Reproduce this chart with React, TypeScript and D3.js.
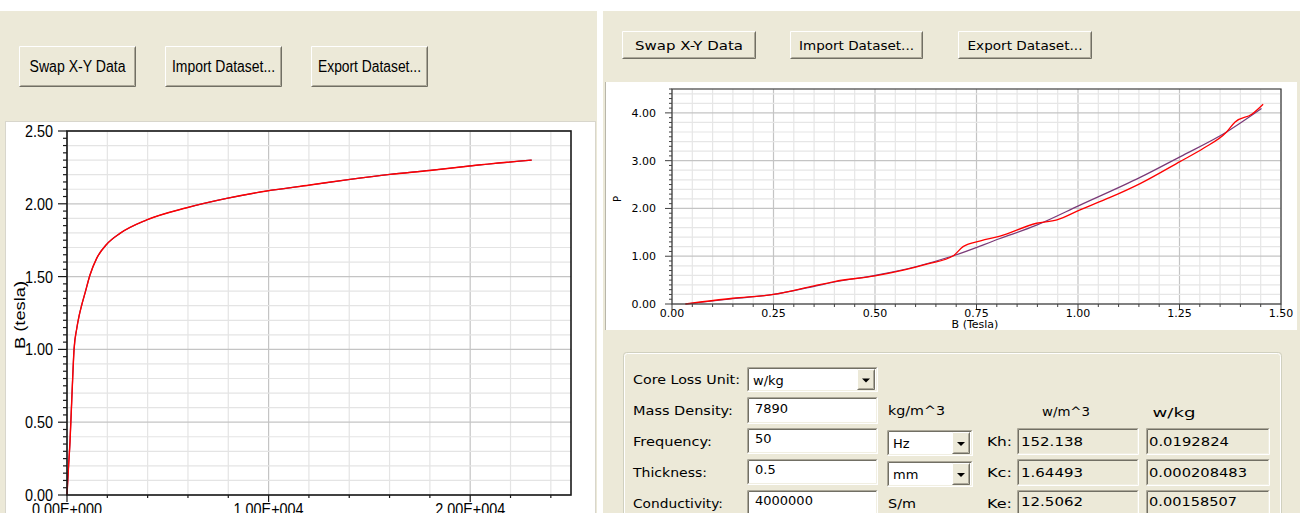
import React from 'react';
import * as d3 from 'd3';

// ---- Left chart: B-H curve ----
const H_APM = [0, 70, 150, 250, 350, 480, 600, 730, 900, 1140, 1470, 1970, 2630, 3950, 5940, 7920, 9900, 12050, 14040, 16020, 18000, 19990, 23050];
const B_TESLA = [0, 0.18, 0.37, 0.70, 1.00, 1.14, 1.23, 1.305, 1.39, 1.511, 1.625, 1.722, 1.797, 1.889, 1.973, 2.037, 2.088, 2.129, 2.168, 2.202, 2.229, 2.26, 2.30];
const LEFT_X_TICKS = [0, 10000, 20000];
const LEFT_X_LABELS = ['0.00E+000', '1.00E+004', '2.00E+004'];
const LEFT_Y_TICKS = [0, 0.5, 1.0, 1.5, 2.0, 2.5];
const LEFT_Y_LABELS = ['0.00', '0.50', '1.00', '1.50', '2.00', '2.50'];

// ---- Right chart: core loss P vs B ----
const B_MEAS = [0.033, 0.15, 0.25, 0.35, 0.40, 0.50, 0.57, 0.63, 0.693, 0.717, 0.76, 0.808, 0.898, 0.948, 1.005, 1.079, 1.153, 1.251, 1.309, 1.366, 1.387, 1.428, 1.456];
const P_MEAS = [0, 0.12, 0.20, 0.38, 0.47, 0.59, 0.71, 0.84, 1.01, 1.20, 1.32, 1.42, 1.69, 1.76, 1.97, 2.23, 2.52, 2.98, 3.26, 3.60, 3.81, 3.97, 4.18];
const B_FIT = [0.033, 0.15, 0.25, 0.35, 0.40, 0.50, 0.60, 0.693, 0.808, 0.898, 1.005, 1.153, 1.251, 1.366, 1.452];
const P_FIT = [0, 0.11, 0.20, 0.37, 0.46, 0.60, 0.78, 1.01, 1.37, 1.65, 2.07, 2.65, 3.08, 3.60, 4.09];
const RIGHT_X_TICKS = [0, 0.25, 0.5, 0.75, 1.0, 1.25, 1.5];
const RIGHT_Y_TICKS = [0, 1, 2, 3, 4];

const BEIGE = '#ECE9D8';
const FL = 'Liberation Sans, Arial, sans-serif';
const FR = 'DejaVu Sans, Verdana, sans-serif';

function T({ x, y, s, size, font, w, anchor, fill, rotate }: any) {
  const props: any = {};
  if (w) { props.textLength = w; props.lengthAdjust = 'spacingAndGlyphs'; }
  return (
    <text x={x} y={y} fontSize={size} fontFamily={font} textAnchor={anchor || 'start'} fill={fill || '#000'}
      transform={rotate ? `rotate(${rotate},${x},${y})` : undefined} {...props}>{s}</text>
  );
}

function Raised({ x, y, w, h }: any) {
  return (
    <g>
      <rect x={x} y={y} width={w} height={h} fill={BEIGE} />
      <path d={`M${x + 0.5},${y + h - 0.5}V${y + 0.5}H${x + w - 0.5}`} stroke="#fff" fill="none" />
      <path d={`M${x + 0.5},${y + h - 0.5}H${x + w - 0.5}V${y + 0.5}`} stroke="#716F64" fill="none" />
      <path d={`M${x + 1.5},${y + h - 1.5}H${x + w - 1.5}V${y + 1.5}`} stroke="#ACA899" fill="none" />
    </g>
  );
}

function Sunken({ x, y, w, h, fill }: any) {
  return (
    <g>
      <rect x={x} y={y} width={w} height={h} fill={fill || '#fff'} />
      <path d={`M${x + 0.5},${y + h - 0.5}V${y + 0.5}H${x + w - 0.5}`} stroke="#ACA899" fill="none" />
      <path d={`M${x + 1.5},${y + h - 1.5}V${y + 1.5}H${x + w - 1.5}`} stroke="#716F64" fill="none" />
      <path d={`M${x + 0.5},${y + h - 0.5}H${x + w - 0.5}V${y + 0.5}`} stroke="#fff" fill="none" />
      <path d={`M${x + 1.5},${y + h - 1.5}H${x + w - 1.5}V${y + 1.5}`} stroke="#F1EFE2" fill="none" />
    </g>
  );
}

function Combo({ x, y, w, h, s }: any) {
  const bx = x + w - 21;
  return (
    <g>
      <Sunken x={x} y={y} w={w} h={h} />
      <T x={x + 6} y={y + h / 2 + 5} s={s} size={13} font={FR} />
      <Raised x={bx} y={y + 2} w={18} h={h - 4} />
      <path d={`M${bx + 5},${y + h / 2 - 1}h8l-4,4z`} fill="#000" />
    </g>
  );
}

function Button({ x, y, w, h, s, size, font, tw }: any) {
  return (
    <g>
      <Raised x={x} y={y} w={w} h={h} />
      <T x={x + w / 2} y={y + h / 2 + size * 0.36} s={s} size={size} font={font} anchor="middle" w={tw} />
    </g>
  );
}

export default function App() {
  // Left chart scales
  const lx = d3.scaleLinear().domain([0, 25000]).range([67, 571]);
  const ly = d3.scaleLinear().domain([0, 2.5]).range([495, 131]);
  const leftLine = d3.line<number>().x((_, i) => lx(H_APM[i])).y((d) => ly(d)).curve(d3.curveMonotoneX);
  const lxMinor = d3.range(0, 25001, 2000);
  const lyMinor = d3.range(0, 26).map((i) => i / 10);
  const lyTicks = d3.range(0, 51).map((i) => i / 20);

  // Right chart scales
  const rx = d3.scaleLinear().domain([0, 1.5]).range([672, 1281]);
  const ry = d3.scaleLinear().domain([0, 4.5]).range([304, 89]);
  const measLine = d3.line<number>().x((_, i) => rx(B_MEAS[i])).y((d) => ry(d)).curve(d3.curveMonotoneX);
  const fitLine = d3.line<number>().x((_, i) => rx(B_FIT[i])).y((d) => ry(d)).curve(d3.curveMonotoneX);
  const rxMinor = d3.range(0, 31).map((i) => i / 20);
  const ryMinor = d3.range(0, 23).map((i) => i / 5).filter((v) => v <= 4.5);
  const ryTicks = d3.range(0, 46).map((i) => i / 10);

  return (
    <div style={{ position: 'fixed', left: 0, top: 0 }}>
      <svg width={1300} height={513} style={{ display: 'block' }}>
        <rect x={0} y={0} width={1300} height={513} fill="#fff" />
        {/* Left panel */}
        <rect x={0} y={11} width={597} height={502} fill={BEIGE} />
        <Button x={19} y={46} w={117} h={41} s="Swap X-Y Data" size={16} font={FL} tw={96} />
        <Button x={165} y={46} w={117} h={41} s="Import Dataset..." size={16} font={FL} tw={103} />
        <Button x={311} y={46} w={117} h={41} s="Export Dataset..." size={16} font={FL} tw={103} />
        <rect x={5.5} y={121.5} width={590} height={395} fill="#fff" stroke="#d8d6cc" />

        {/* left grid */}
        {lxMinor.map((v) => (
          <line key={'lxg' + v} x1={lx(v)} x2={lx(v)} y1={ly(2.5)} y2={ly(0)} stroke={v % 10000 === 0 ? '#c4c4c4' : '#e4e4e4'} strokeWidth={1.2} />
        ))}
        {lyMinor.map((v) => (
          <line key={'lyg' + v} x1={lx(0)} x2={lx(25000)} y1={ly(v)} y2={ly(v)} stroke={Math.round(v * 10) % 5 === 0 ? '#c4c4c4' : '#e4e4e4'} strokeWidth={1.2} />
        ))}
        <path d={leftLine(B_TESLA) || ''} fill="none" stroke="#6a2a6e" strokeWidth={1.2} />
        <path d={leftLine(B_TESLA) || ''} fill="none" stroke="#ff0000" strokeWidth={1.4} />
        <rect x={lx(0)} y={ly(2.5)} width={lx(25000) - lx(0)} height={ly(0) - ly(2.5)} fill="none" stroke="#1a1a1a" strokeWidth={1.6} />
        {lyTicks.map((v, i) => (
          <line key={'lyt' + i} x1={lx(0) - (i % 10 === 0 ? 9 : 4)} x2={lx(0)} y1={ly(v)} y2={ly(v)} stroke="#1a1a1a" strokeWidth={1.2} />
        ))}
        {lxMinor.map((v) => (
          <line key={'lxt' + v} x1={lx(v)} x2={lx(v)} y1={ly(0)} y2={ly(0) + (v % 10000 === 0 ? 7 : 3)} stroke="#1a1a1a" strokeWidth={1.2} />
        ))}
        {LEFT_Y_TICKS.map((v, i) => (
          <T key={'lyl' + v} x={53} y={ly(v) + 6} s={LEFT_Y_LABELS[i]} size={16} font={FL} anchor="end" w={28} />
        ))}
        {LEFT_X_TICKS.map((v, i) => (
          <T key={'lxl' + v} x={lx(v)} y={515} s={LEFT_X_LABELS[i]} size={16} font={FL} anchor="middle" w={70} />
        ))}
        <T x={25} y={315} s="B (tesla)" size={14} font={FL} anchor="middle" rotate={-90} w={68} />

        {/* Right panel */}
        <rect x={603} y={11} width={697} height={502} fill={BEIGE} />
        <Button x={622} y={31} w={134} h={28} s="Swap X-Y Data" size={13} font={FR} tw={108} />
        <Button x={790} y={31} w={133} h={28} s="Import Dataset..." size={13} font={FR} tw={115} />
        <Button x={958} y={31} w={134} h={28} s="Export Dataset..." size={13} font={FR} tw={115} />
        <rect x={605} y={82} width={692} height={248} fill="#fff" />
        <line x1={605.5} x2={605.5} y1={82} y2={330} stroke="#b8b6aa" />

        {rxMinor.map((v, i) => (
          <line key={'rxg' + i} x1={rx(v)} x2={rx(v)} y1={ry(4.5)} y2={ry(0)} stroke={i % 5 === 0 ? '#c4c4c4' : '#e6e6e6'} strokeWidth={1.2} />
        ))}
        {ryMinor.map((v, i) => (
          <line key={'ryg' + i} x1={rx(0)} x2={rx(1.5)} y1={ry(v)} y2={ry(v)} stroke={i % 5 === 0 ? '#c4c4c4' : '#e6e6e6'} strokeWidth={1.2} />
        ))}
        <path d={fitLine(P_FIT) || ''} fill="none" stroke="#7a3a78" strokeWidth={1.2} />
        <path d={measLine(P_MEAS) || ''} fill="none" stroke="#ff0000" strokeWidth={1.3} />
        <rect x={rx(0)} y={ry(4.5)} width={rx(1.5) - rx(0)} height={ry(0) - ry(4.5)} fill="none" stroke="#404040" strokeWidth={1.2} />
        {ryTicks.map((v, i) => (
          <line key={'ryt' + i} x1={rx(0) - (i % 10 === 0 ? 7 : 3)} x2={rx(0)} y1={ry(v)} y2={ry(v)} stroke="#404040" />
        ))}
        {rxMinor.map((v, i) => (
          <line key={'rxt' + i} x1={rx(v)} x2={rx(v)} y1={ry(0)} y2={ry(0) + (i % 5 === 0 ? 6 : 3)} stroke="#404040" />
        ))}
        {RIGHT_Y_TICKS.map((v) => (
          <T key={'ryl' + v} x={656} y={ry(v) + 4} s={v.toFixed(2)} size={11} font={FR} anchor="end" />
        ))}
        {RIGHT_X_TICKS.map((v) => (
          <T key={'rxl' + v} x={rx(v)} y={317} s={v.toFixed(2)} size={11} font={FR} anchor="middle" />
        ))}
        <T x={975} y={328} s="B (Tesla)" size={11} font={FR} anchor="middle" />
        <T x={621} y={199} s="P" size={10} font={FR} anchor="middle" rotate={-90} />

        {/* Group box */}
        <rect x={623.5} y={352.5} width={658} height={175} fill="none" stroke="#D0D0BF" rx={3} />
        <rect x={624.5} y={353.5} width={656} height={173} fill="none" stroke="#fff" rx={3} />

        <T x={633} y={384} s="Core Loss Unit:" size={13} font={FR} w={107} />
        <Combo x={747} y={367} w={131} h={25} s="w/kg" />

        <T x={633} y={415} s="Mass Density:" size={13} font={FR} w={100} />
        <Sunken x={747} y={397} w={131} h={27} />
        <T x={755} y={413} s="7890" size={13} font={FR} />
        <T x={888} y={415} s="kg/m^3" size={13} font={FR} w={57} />

        <T x={633} y={446} s="Frequency:" size={13} font={FR} w={79} />
        <Sunken x={747} y={428} w={131} h={26} />
        <T x={755} y={443} s="50" size={13} font={FR} />
        <Combo x={887} y={430} w={86} h={26} s="Hz" />

        <T x={633} y={477} s="Thickness:" size={13} font={FR} w={74} />
        <Sunken x={747} y={459} w={131} h={26} />
        <T x={755} y={474} s="0.5" size={13} font={FR} />
        <Combo x={887} y={461} w={86} h={26} s="mm" />

        <T x={633} y={508} s="Conductivity:" size={13} font={FR} w={90} />
        <Sunken x={747} y={490} w={131} h={28} />
        <T x={755} y={505} s="4000000" size={13} font={FR} />
        <T x={888} y={508} s="S/m" size={13} font={FR} w={28} />

        <T x={1066} y={416} s="w/m^3" size={13} font={FR} anchor="middle" w={48} />
        <T x={1174} y={417} s="w/kg" size={13} font={FR} anchor="middle" w={43} />

        <T x={987} y={446} s="Kh:" size={13} font={FR} w={25} />
        <Sunken x={1017} y={428} w={122} h={27} fill={BEIGE} />
        <T x={1021} y={446} s="152.138" size={13} font={FR} w={62} />
        <Sunken x={1146} y={428} w={124} h={27} fill={BEIGE} />
        <T x={1149} y={446} s="0.0192824" size={13} font={FR} w={80} />

        <T x={987} y={477} s="Kc:" size={13} font={FR} w={25} />
        <Sunken x={1017} y={459} w={122} h={27} fill={BEIGE} />
        <T x={1021} y={477} s="1.64493" size={13} font={FR} w={62} />
        <Sunken x={1146} y={459} w={124} h={27} fill={BEIGE} />
        <T x={1149} y={477} s="0.000208483" size={13} font={FR} w={98} />

        <T x={987} y={508} s="Ke:" size={13} font={FR} w={25} />
        <Sunken x={1017} y={490} w={122} h={27} fill={BEIGE} />
        <T x={1021} y={506} s="12.5062" size={13} font={FR} w={62} />
        <Sunken x={1146} y={490} w={124} h={27} fill={BEIGE} />
        <T x={1149} y={506} s="0.00158507" size={13} font={FR} w={88} />
      </svg>
    </div>
  );
}
